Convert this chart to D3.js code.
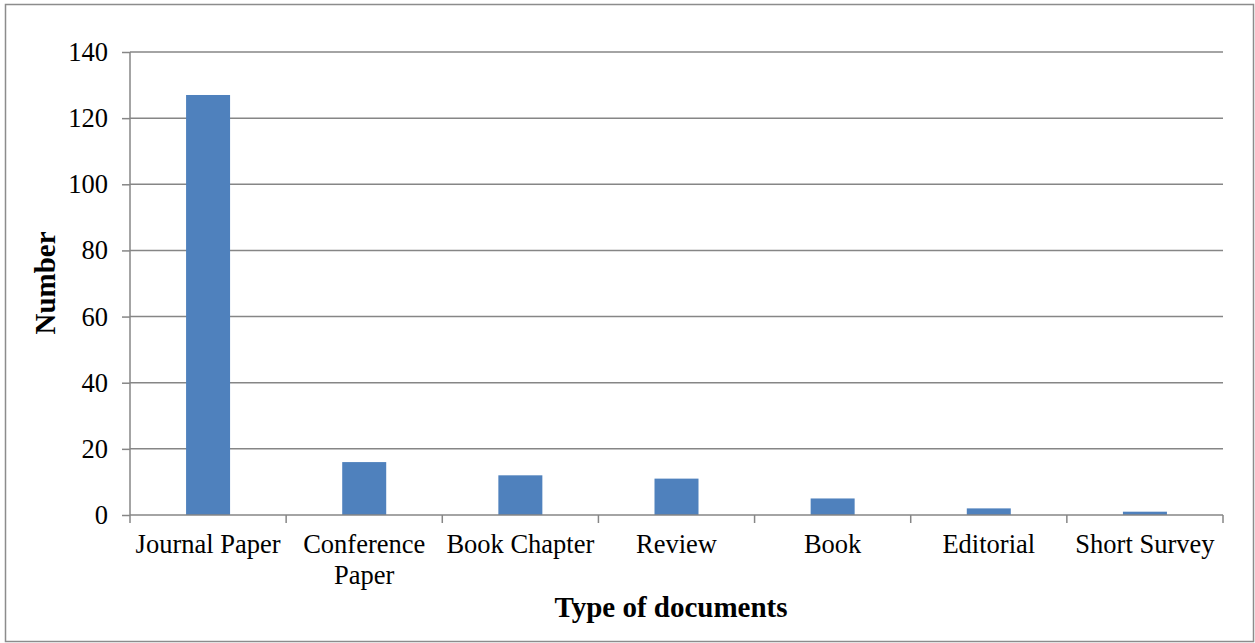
<!DOCTYPE html>
<html>
<head>
<meta charset="utf-8">
<script src="https://cdn.jsdelivr.net/npm/d3@7"></script>
<style>
  html, body { margin: 0; padding: 0; background: #fff; }
  svg { display: block; }
  text { font-family: "Liberation Serif", "Times New Roman", serif; fill: #000; }
</style>
</head>
<body>
<svg id="chart" width="1255" height="643"></svg>
<script>
// Document types and their counts
const categories = ["Journal Paper", "Conference Paper", "Book Chapter", "Review", "Book", "Editorial", "Short Survey"];
const counts = [127, 16, 12, 11, 5, 2, 1];
const yTicks = [0, 20, 40, 60, 80, 100, 120, 140];

const svg = d3.select("#chart");
const W = 1255, H = 643;
const margin = { left: 130, right: 32, top: 52, bottom: 128 };
const plotW = W - margin.left - margin.right;
const plotH = H - margin.top - margin.bottom;
const gridColor = "#868686";
const labelSize = "26.5px";

// Outer frame
svg.append("rect")
  .attr("x", 5.5).attr("y", 4.5)
  .attr("width", 1248).attr("height", 637)
  .attr("fill", "#fff").attr("stroke", "#8c8c8c").attr("stroke-width", 1.5);

const g = svg.append("g").attr("transform", `translate(${margin.left},${margin.top})`);

const x = d3.scaleBand().domain(categories).range([0, plotW]).paddingInner(0).paddingOuter(0);
const y = d3.scaleLinear().domain([0, 140]).range([plotH, 0]);

// Horizontal gridlines
g.append("g").selectAll("line").data(yTicks.filter(t => t > 0)).join("line")
  .attr("x1", 0).attr("x2", plotW)
  .attr("y1", d => y(d)).attr("y2", d => y(d))
  .attr("stroke", gridColor).attr("stroke-width", 1.5);

// Bars
const barW = 44;
g.append("g").selectAll("rect").data(categories).join("rect")
  .attr("x", (d) => x(d) + x.bandwidth() / 2 - barW / 2)
  .attr("width", barW)
  .attr("y", (d, i) => y(counts[i]))
  .attr("height", (d, i) => y(0) - y(counts[i]))
  .attr("fill", "#4f81bd");

// Y axis
const yAxis = g.append("g")
  .call(d3.axisLeft(y).tickValues(yTicks).tickSize(8).tickPadding(14).tickFormat(d3.format("d")));
yAxis.select(".domain").attr("stroke", gridColor).attr("stroke-width", 1.5).attr("d", `M0,${plotH}V0`);
yAxis.selectAll(".tick line").attr("stroke", gridColor).attr("stroke-width", 1.5);
yAxis.selectAll(".tick text").style("font-size", labelSize).style("font-family", "Liberation Serif").attr("fill", "#000");

// X axis with category-boundary tick marks
const xg = g.append("g").attr("transform", `translate(0,${plotH})`);
xg.append("line").attr("x1", 0).attr("x2", plotW).attr("y1", 0).attr("y2", 0)
  .attr("stroke", gridColor).attr("stroke-width", 1.5);
const bounds = categories.map(c => x(c)).concat([plotW]);
xg.selectAll("line.tk").data(bounds).join("line").attr("class", "tk")
  .attr("x1", d => d).attr("x2", d => d).attr("y1", 0).attr("y2", 8)
  .attr("stroke", gridColor).attr("stroke-width", 1.5);

// Category labels, wrapped onto two lines where they do not fit
const labelLines = {
  "Conference Paper": ["Conference", "Paper"]
};
xg.selectAll("text.cat").data(categories).join("text").attr("class", "cat")
  .attr("text-anchor", "middle")
  .style("font-size", labelSize)
  .each(function (d) {
    const lines = labelLines[d] || [d];
    const t = d3.select(this);
    lines.forEach((ln, i) => {
      t.append("tspan")
        .attr("x", x(d) + x.bandwidth() / 2)
        .attr("y", 38 + i * 31)
        .text(ln);
    });
  });

// Axis titles
svg.append("text")
  .attr("x", 671).attr("y", 617)
  .attr("text-anchor", "middle")
  .style("font-size", "29px").style("font-weight", "bold")
  .text("Type of documents");

svg.append("text")
  .attr("transform", "translate(55,283) rotate(-90)")
  .attr("text-anchor", "middle")
  .style("font-size", "29px").style("font-weight", "bold")
  .text("Number");
</script>
</body>
</html>
